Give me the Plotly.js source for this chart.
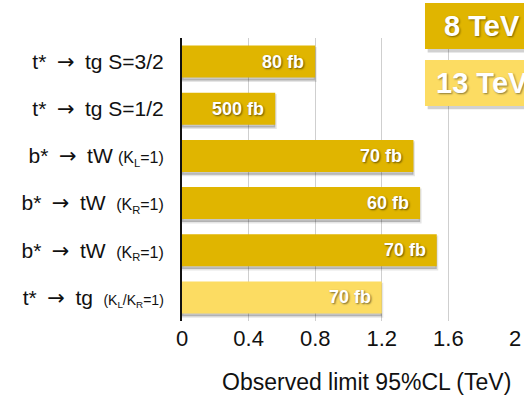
<!DOCTYPE html>
<html>
<head>
<meta charset="utf-8">
<script src="https://cdn.plot.ly/plotly-3.0.1.min.js"></script>
<style>html,body{margin:0;padding:0;background:#fff;}#chart{width:524px;height:395px;}</style>
</head>
<body>
<div id="chart"></div>
<script>
// ---- data ----
const categories = ["tstar_S32", "tstar_S12", "bstar_KL", "bstar_KR_a", "bstar_KR_b", "tstar_KLKR"];
const ARROW = "\u2005<span style=\"font-family:'DejaVu Sans'\">\u2005\u2192\u2005</span>\u2005";
const tickLabels = [
  "t*" + ARROW + "tg S=3/2",
  "t*" + ARROW + "tg S=1/2",
  "b*" + ARROW + "tW\u2005<span style=\"font-size:16px\">(K<sub>L</sub>=1)</span>",
  "b*" + ARROW + "tW\u2005\u2005<span style=\"font-size:16px\">(K<sub>R</sub>=1)</span>",
  "b*" + ARROW + "tW\u2005\u2005<span style=\"font-size:16px\">(K<sub>R</sub>=1)</span>",
  "t*" + ARROW + "tg\u2005\u2005<span style=\"font-size:14px\">(K<sub>L</sub>/K<sub>R</sub>=1)</span>"
];
const limits = [0.80, 0.56, 1.39, 1.43, 1.53, 1.20];
const xsecLabels = ["80 fb", "500 fb", "70 fb", "60 fb", "70 fb", "70 fb"];
const energies = ["8 TeV", "8 TeV", "8 TeV", "8 TeV", "8 TeV", "13 TeV"];
const energyKeys = ["8 TeV", "13 TeV"];
const xTickVals = [0, 0.4, 0.8, 1.2, 1.6, 2];
const xTickText = ["0", "0.4", "0.8", "1.2", "1.6", "2"];
const xTitle = "Observed limit 95%CL (TeV)";

// ---- styles ----
const colorOf = {"8 TeV": "#E0B500", "13 TeV": "#FCDC62"};
const barW = 0.68;
const FONT = "Liberation Sans, Arial, Helvetica, sans-serif";

const shadow = {
  type: "bar", orientation: "h",
  x: limits, y: categories,
  width: barW, offset: -barW / 2 + 0.06,
  marker: {color: "rgba(0,0,0,0.22)", line: {color: "rgba(0,0,0,0.10)", width: 3}},
  hoverinfo: "skip", showlegend: false
};
const bars = {
  type: "bar", orientation: "h",
  x: limits, y: categories,
  width: barW, offset: -barW / 2,
  marker: {color: energies.map(e => colorOf[e])},
  hoverinfo: "x", showlegend: false
};

const annotations = categories.map((c, i) => ({
  x: limits[i], y: c, xref: "x", yref: "y",
  text: "<b>" + xsecLabels[i] + "</b>",
  showarrow: false, xanchor: "right", yanchor: "middle", xshift: -9,
  font: {family: FONT, size: 18, color: "#ffffff", shadow: "1px 1px 2px rgba(0,0,0,0.55)"}
}));
annotations.push({
  x: 0.994, y: -0.215, xref: "paper", yref: "paper",
  text: xTitle, showarrow: false, xanchor: "right", yanchor: "middle",
  font: {family: FONT, size: 23, color: "#111"}
});

// legend boxes (paper coords)
const boxX0 = 0.7297, boxX1 = 1.06;
const boxes = [{y0: 0.961, y1: 1.124}, {y0: 0.760, y1: 0.922}];
const shapes = [];
energyKeys.forEach((k, i) => {
  const b = boxes[i];
  shapes.push({type: "rect", xref: "paper", yref: "paper", x0: boxX0 + 0.008, x1: boxX1 + 0.008,
    y0: b.y0 - 0.012, y1: b.y1 - 0.012, fillcolor: "rgba(0,0,0,0.18)", line: {width: 0}, layer: "above"});
  shapes.push({type: "rect", xref: "paper", yref: "paper", x0: boxX0, x1: boxX1,
    y0: b.y0, y1: b.y1, fillcolor: colorOf[k], line: {width: 0}, layer: "above"});
  annotations.push({
    x: (boxX0 + boxX1) / 2 + 0.005, y: (b.y0 + b.y1) / 2, xref: "paper", yref: "paper",
    text: "<b>" + k + "</b>", showarrow: false, xanchor: "center", yanchor: "middle",
    font: {family: FONT, size: 29, color: "#ffffff", shadow: "1px 1px 2px rgba(0,0,0,0.45)"}
  });
});

const layout = {
  width: 524, height: 395,
  margin: {l: 182, r: 9, t: 38, b: 74, pad: 0},
  paper_bgcolor: "#ffffff", plot_bgcolor: "#ffffff",
  barmode: "overlay",
  font: {family: FONT, color: "#111"},
  xaxis: {
    range: [0, 2], tickvals: xTickVals, ticktext: xTickText,
    showgrid: true, gridcolor: "#cfcfcf", gridwidth: 1,
    zeroline: false, showline: false, ticks: "",
    ticklabelstandoff: 2,
    tickfont: {family: FONT, size: 22, color: "#111"}, fixedrange: true
  },
  yaxis: {
    type: "category", categoryorder: "array", categoryarray: categories,
    tickvals: categories, ticktext: tickLabels,
    autorange: "reversed", showgrid: false, zeroline: false,
    showline: true, linecolor: "#111", linewidth: 2, ticks: "",
    ticklabelstandoff: 12,
    tickfont: {family: FONT, size: 21, color: "#111"}, fixedrange: true
  },
  shapes: shapes,
  annotations: annotations,
  showlegend: false
};

Plotly.newPlot("chart", [shadow, bars], layout, {displayModeBar: false, staticPlot: true});
</script>
</body>
</html>
